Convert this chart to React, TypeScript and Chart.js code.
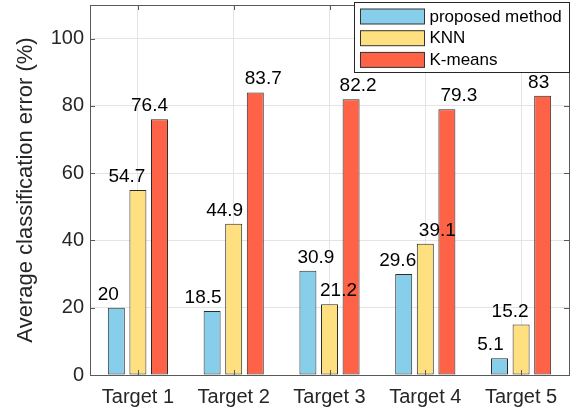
import React, { useEffect, useRef } from "react";
import { Chart, registerables } from "chart.js";

Chart.register(...registerables);

const categories = ["Target 1", "Target 2", "Target 3", "Target 4", "Target 5"];
const seriesNames = ["proposed method", "KNN", "K-means"];
const proposedValues = [20, 19, 31, 30, 5];
const knnValues = [55, 45, 21, 39, 15];
const kmeansValues = [76, 84, 82, 79, 83];
const proposedLabels = ["20", "18.5", "30.9", "29.6", "5.1"];
const knnLabels = ["54.7", "44.9", "21.2", "39.1", "15.2"];
const kmeansLabels = ["76.4", "83.7", "82.2", "79.3", "83"];
const yTickValues = [0, 20, 40, 60, 80, 100];
const yTitle = "Average classification error (%)";

const colors = ["#87CEEB", "#FFE080", "#FF6347"];
// small horizontal nudges (px) of the value labels as placed in the reference
const labelNudge = [
  [-8, -9, 8, -6, -9],
  [-11, -9, 9, 12, -11],
  [-10, 8, 7, 12, -4],
];
const FONT = "'Liberation Sans', Arial, Helvetica, sans-serif";
const TEXT = "#262626";

export default function App() {
  const ref = useRef<HTMLCanvasElement | null>(null);

  useEffect(() => {
    if (!ref.current) return;
    const seriesValues = [proposedValues, knnValues, kmeansValues];
    const seriesLabels = [proposedLabels, knnLabels, kmeansLabels];

    const overlay = {
      id: "overlay",
      afterDatasetsDraw(chart: any) {
        const ctx = chart.ctx;
        const ca = chart.chartArea;
        const yScale = chart.scales.y;
        const xScale = chart.scales.x;
        ctx.save();
        ctx.font = `19px ${FONT}`;
        ctx.fillStyle = "#000";
        ctx.textAlign = "center";
        ctx.textBaseline = "alphabetic";
        chart.data.datasets.forEach((ds: any, di: number) => {
          const meta = chart.getDatasetMeta(di);
          meta.data.forEach((el: any, i: number) => {
            ctx.fillText(seriesLabels[di][i], el.x + labelNudge[di][i], el.y - 8);
          });
        });
        ctx.strokeStyle = "#5a5a5a";
        ctx.lineWidth = 1;
        ctx.strokeRect(Math.round(ca.left) + 0.5, Math.round(ca.top) + 0.5, Math.round(ca.right - ca.left), Math.round(ca.bottom - ca.top));
        ctx.beginPath();
        yTickValues.forEach((v) => {
          const y = Math.round(yScale.getPixelForValue(v)) + 0.5;
          ctx.moveTo(ca.left, y);
          ctx.lineTo(ca.left + 5, y);
          ctx.moveTo(ca.right, y);
          ctx.lineTo(ca.right - 5, y);
        });
        categories.forEach((_, i) => {
          const x = Math.round(xScale.getPixelForValue(i)) + 0.5;
          ctx.moveTo(x, ca.bottom);
          ctx.lineTo(x, ca.bottom - 5);
          ctx.moveTo(x, ca.top);
          ctx.lineTo(x, ca.top + 5);
        });
        ctx.stroke();
        ctx.restore();
      },
      afterDraw(chart: any) {
        const ctx = chart.ctx;
        const ca = chart.chartArea;
        ctx.save();
        const w = 215;
        const h = 70;
        const lx = Math.round(ca.right - w) + 0.5;
        const ly = Math.round(ca.top - 3) + 0.5;
        ctx.fillStyle = "#fff";
        ctx.fillRect(lx, ly, w, h);
        ctx.strokeStyle = "#262626";
        ctx.lineWidth = 1;
        ctx.strokeRect(lx, ly, w, h);
        ctx.font = `17px ${FONT}`;
        ctx.textAlign = "left";
        ctx.textBaseline = "middle";
        seriesNames.forEach((name, i) => {
          const sy = ly + 6.5 + i * 21.7;
          ctx.fillStyle = colors[i];
          ctx.fillRect(lx + 6, sy, 64, 15);
          ctx.strokeStyle = "#333";
          ctx.strokeRect(lx + 6, sy, 64, 15);
          ctx.fillStyle = "#000";
          ctx.fillText(name, lx + 75, sy + 8);
        });
        ctx.restore();
      },
    };

    const chart = new Chart(ref.current, {
      type: "bar",
      data: {
        labels: categories,
        datasets: seriesNames.map((name, i) => ({
          label: name,
          data: seriesValues[i],
          backgroundColor: colors[i],
          borderColor: "#2b2b2b",
          borderWidth: 1,
          borderSkipped: false,
          categoryPercentage: 0.676,
          barPercentage: 0.787,
        })),
      },
      options: {
        animation: false,
        responsive: false,
        devicePixelRatio: 1,
        layout: { padding: { top: 5, right: 12, left: 0, bottom: 0 } },
        plugins: {
          legend: { display: false },
          tooltip: { enabled: false },
        },
        scales: {
          x: {
            grid: { display: true, offset: false, color: "#e4e4e4", drawTicks: false },
            border: { display: false },
            ticks: { font: { size: 20, family: FONT }, color: TEXT, padding: 10 },
            afterFit(scale: any) {
              scale.height = 37;
              scale.paddingLeft = 0;
              scale.paddingRight = 0;
            },
          },
          y: {
            min: 0,
            max: 110,
            grid: { color: "#e4e4e4", drawTicks: false },
            border: { display: false },
            ticks: {
              stepSize: 20,
              font: { size: 20, family: FONT },
              color: TEXT,
              padding: 6,
              callback: (v: any) => (yTickValues.includes(Number(v)) ? String(v) : ""),
            },
            title: {
              display: true,
              text: yTitle,
              font: { size: 22, family: FONT },
              color: TEXT,
              padding: { top: 13, bottom: 0 },
            },
            afterFit(scale: any) {
              scale.width = 90;
              scale.paddingTop = 0;
              scale.paddingBottom = 0;
            },
          },
        },
      },
      plugins: [overlay],
    });
    return () => chart.destroy();
  }, []);

  return (
    <div style={{ position: "fixed", left: 0, top: 0, width: 581, height: 412, background: "#fff" }}>
      <canvas ref={ref} width={581} height={412} style={{ width: 581, height: 412 }} />
    </div>
  );
}
